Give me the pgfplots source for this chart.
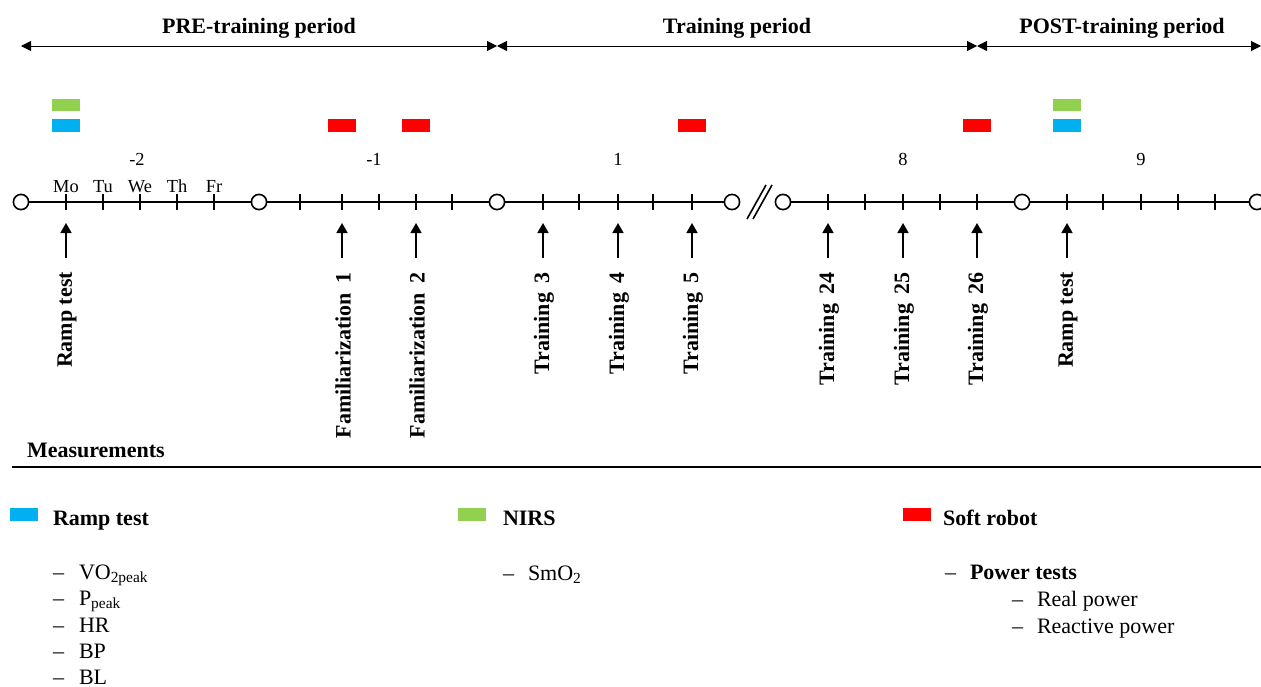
\documentclass[border=0pt]{standalone}
\usepackage{fontspec}
\setmainfont{Liberation Serif}
\usepackage{pgfplots}
\pgfplotsset{compat=1.18}
\usetikzlibrary{arrows.meta}

\definecolor{nirs}{RGB}{146,208,80}
\definecolor{ramp}{RGB}{0,176,240}
\definecolor{robot}{RGB}{255,0,0}

% small filled rectangle used for the measurement markers (28 x 12 px)
\pgfdeclareplotmark{hbar}{%
  \pgfpathrectangle{\pgfpoint{-7pt}{-3.1pt}}{\pgfpoint{14pt}{6.2pt}}%
  \pgfusepathqfill}

\tikzset{
  txt/.style={inner sep=0pt, outer sep=0pt, font=\fontsize{11}{13}\selectfont},
  bld/.style={inner sep=0pt, outer sep=0pt, font=\fontsize{11}{13}\selectfont\bfseries},
  sml/.style={inner sep=0pt, outer sep=0pt, font=\fontsize{9.2}{11}\selectfont},
  lab/.style={bld, rotate=90, anchor=east},
}

\begin{document}
\begin{tikzpicture}
\begin{axis}[
    width=630.5pt, height=343pt, scale only axis,
    xmin=0, xmax=1261, ymin=0, ymax=686,
    y dir=reverse,
    hide axis,
    clip=false,
]
\coordinate (BL) at (axis cs:0,686);
\coordinate (TR) at (axis cs:1261,0);

% period arrows
\addplot[line width=0.5pt, {Triangle[length=5pt,width=5pt]}-{Triangle[length=5pt,width=5pt]}]
  coordinates {(21,46) (497,46)};
\addplot[line width=0.5pt, {Triangle[length=5pt,width=5pt]}-{Triangle[length=5pt,width=5pt]}]
  coordinates {(497,46) (977,46)};
\addplot[line width=0.5pt, {Triangle[length=5pt,width=5pt]}-{Triangle[length=5pt,width=5pt]}]
  coordinates {(977,46) (1261,46)};
\node[bld, anchor=base] at (axis cs:259,33) {PRE-training period};
\node[bld, anchor=base] at (axis cs:737,33) {Training period};
\node[bld, anchor=base] at (axis cs:1122,33) {POST-training period};

% measurement markers
\addplot[only marks, mark=hbar, color=nirs] coordinates {(66,105) (1067,105)};
\addplot[only marks, mark=hbar, color=ramp] coordinates {(66,125.5) (1067,125.5)};
\addplot[only marks, mark=hbar, color=robot] coordinates {(342,125.5) (416,125.5) (692,125.5) (977,125.5)};

% week numbers and days
\node[sml, anchor=base] at (axis cs:137,165) {-2};
\node[sml, anchor=base] at (axis cs:374,165) {-1};
\node[sml, anchor=base] at (axis cs:618,165) {1};
\node[sml, anchor=base] at (axis cs:903,165) {8};
\node[sml, anchor=base] at (axis cs:1141,165) {9};
\node[sml, anchor=base] at (axis cs:66,192) {Mo};
\node[sml, anchor=base] at (axis cs:103,192) {Tu};
\node[sml, anchor=base] at (axis cs:140,192) {We};
\node[sml, anchor=base] at (axis cs:177,192) {Th};
\node[sml, anchor=base] at (axis cs:214,192) {Fr};

% time line
\addplot[line width=1pt] coordinates {(21,202) (732,202)};
\addplot[line width=0.8pt] coordinates {(783,202) (1257,202)};
\addplot[line width=0.8pt] coordinates {(747,219) (766,185)};
\addplot[line width=0.8pt] coordinates {(753,219) (772,185)};
\addplot[only marks, mark=|, mark size=3.8pt, mark options={line width=0.8pt}] coordinates {
  (66,202) (103,202) (140,202) (177,202) (214,202)
  (300,202) (342,202) (379,202) (416,202) (452,202)
  (543,202) (579,202) (618,202) (653,202) (692,202)
  (828,202) (865,202) (903,202) (940,202) (977,202)
  (1067,202) (1103,202) (1141,202) (1178,202) (1215,202)};
\addplot[only marks, mark=*, mark size=3.8pt, mark options={fill=white, draw=black, line width=0.8pt}] coordinates {
  (21,202) (259,202) (497,202) (732,202) (783,202) (1022,202) (1257,202)};

% session arrows
\addplot[quiver={u=0, v=-35}, line width=0.8pt, -{Triangle[length=5pt,width=5.5pt]}] table {
x y
66 258
342 258
416 258
543 258
618 258
692 258
828 258
903 258
977 258
1067 258
};

% session labels
\node[lab] at (axis cs:67,272) {Ramp test};
\node[lab] at (axis cs:343,272) {Familiarization\hspace{0.45em}1};
\node[lab] at (axis cs:417,272) {Familiarization\hspace{0.45em}2};
\node[lab] at (axis cs:544,272) {Training\hspace{0.45em}3};
\node[lab] at (axis cs:619,272) {Training\hspace{0.45em}4};
\node[lab] at (axis cs:693,272) {Training\hspace{0.45em}5};
\node[lab] at (axis cs:829,272) {Training\hspace{0.45em}24};
\node[lab] at (axis cs:904,272) {Training\hspace{0.45em}25};
\node[lab] at (axis cs:978,272) {Training\hspace{0.45em}26};
\node[lab] at (axis cs:1068,272) {Ramp test};

% measurements section
\node[bld, anchor=base west] at (axis cs:27,457) {Measurements};
\addplot[line width=0.8pt] coordinates {(12,467) (1261,467)};

\addplot[only marks, mark=hbar, color=ramp] coordinates {(24,514.5)};
\addplot[only marks, mark=hbar, color=nirs] coordinates {(472,514.5)};
\addplot[only marks, mark=hbar, color=robot] coordinates {(917,514.5)};
\node[bld, anchor=base west] at (axis cs:53,525) {Ramp test};
\node[bld, anchor=base west] at (axis cs:503,525) {NIRS};
\node[bld, anchor=base west] at (axis cs:943,525) {Soft robot};

\node[txt, anchor=base west] at (axis cs:53,579) {--};
\node[txt, anchor=base west] at (axis cs:79,579) {VO\textsubscript{2peak}};
\node[txt, anchor=base west] at (axis cs:53,605) {--};
\node[txt, anchor=base west] at (axis cs:79,605) {P\textsubscript{peak}};
\node[txt, anchor=base west] at (axis cs:53,632) {--};
\node[txt, anchor=base west] at (axis cs:79,632) {HR};
\node[txt, anchor=base west] at (axis cs:53,658) {--};
\node[txt, anchor=base west] at (axis cs:79,658) {BP};
\node[txt, anchor=base west] at (axis cs:53,684) {--};
\node[txt, anchor=base west] at (axis cs:79,684) {BL};

\node[txt, anchor=base west] at (axis cs:503,580) {--};
\node[txt, anchor=base west] at (axis cs:528,580) {SmO\textsubscript{2}};

\node[txt, anchor=base west] at (axis cs:945,579) {--};
\node[bld, anchor=base west] at (axis cs:970,579) {Power tests};
\node[txt, anchor=base west] at (axis cs:1012,606) {--};
\node[txt, anchor=base west] at (axis cs:1037,606) {Real power};
\node[txt, anchor=base west] at (axis cs:1012,633) {--};
\node[txt, anchor=base west] at (axis cs:1037,633) {Reactive power};
\end{axis}
\pgfresetboundingbox
\useasboundingbox (BL) rectangle (TR);
\end{tikzpicture}
\end{document}
